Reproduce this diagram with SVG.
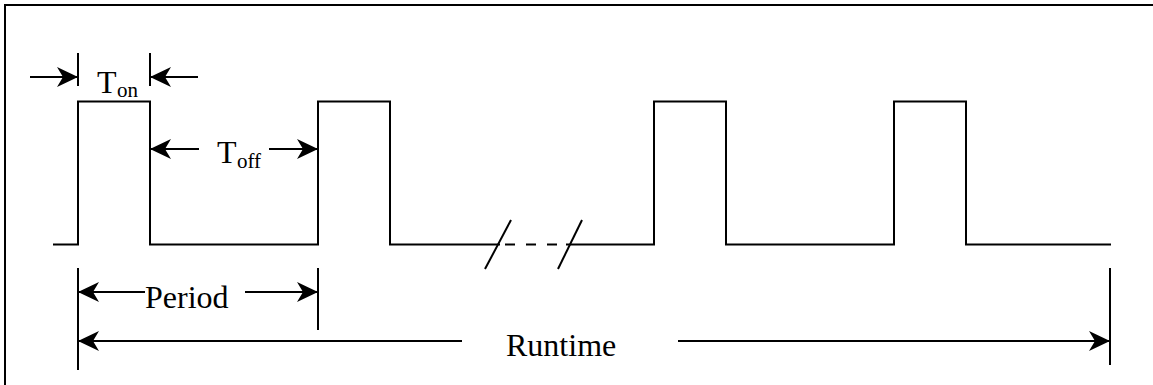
<svg xmlns="http://www.w3.org/2000/svg" width="1153" height="385" viewBox="0 0 1153 385">
  <style>
    .ln { stroke: #000; stroke-width: 2; fill: none; }
    .arr { stroke: #000; stroke-width: 2; fill: none; marker-end: url(#ah); }
    .lbl { font-family: "Liberation Serif", "Times New Roman", serif; fill: #000; }
    .big { font-size: 32px; }
    .sub { font-size: 21px; }
  </style>
  <defs>
    <marker id="ah" markerUnits="userSpaceOnUse" markerWidth="24" markerHeight="24" viewBox="-22 -11 24 22" refX="0" refY="0" orient="auto">
      <path d="M0,0 L-21,-10 L-15,0 L-21,10 Z" fill="#000"/>
    </marker>
  </defs>
  <rect width="1153" height="385" fill="#fff"/>
  <g id="frame">
    <rect class="ln" x="5" y="5" width="1165" height="400"/>
  </g>
  <g id="waveform">
    <polyline class="ln" points="53,244.5 78,244.5 78,101.5 150,101.5 150,244.5 318,244.5 318,101.5 390,101.5 390,244.5 500,244.5"/>
    <line class="ln" x1="505" y1="244.5" x2="560" y2="244.5" stroke-dasharray="10 11"/>
    <polyline class="ln" points="566,244.5 654,244.5 654,101.5 726,101.5 726,244.5 894,244.5 894,101.5 966,101.5 966,244.5 1111,244.5"/>
    <line class="ln" x1="485" y1="269" x2="511" y2="220"/>
    <line class="ln" x1="558" y1="269" x2="582" y2="220"/>
  </g>
  <g id="ticks">
    <line class="ln" x1="78" y1="53" x2="78" y2="86"/>
    <line class="ln" x1="150" y1="53" x2="150" y2="86"/>
    <line class="ln" x1="78" y1="268" x2="78" y2="370"/>
    <line class="ln" x1="318" y1="268" x2="318" y2="330"/>
    <line class="ln" x1="1110" y1="268" x2="1110" y2="365"/>
  </g>
  <g id="connectors">
    <line class="arr" x1="30" y1="77" x2="78" y2="77"/>
    <line class="arr" x1="198" y1="77" x2="150" y2="77"/>
    <line class="arr" x1="199" y1="149" x2="150" y2="149"/>
    <line class="arr" x1="269" y1="149" x2="318" y2="149"/>
    <line class="arr" x1="145" y1="292" x2="78" y2="292"/>
    <line class="arr" x1="245" y1="292" x2="318" y2="292"/>
    <line class="arr" x1="462" y1="341" x2="78" y2="341"/>
    <line class="arr" x1="678" y1="341" x2="1110" y2="341"/>
  </g>
  <g id="label-ton">
    <text class="lbl big" x="97" y="93">T</text>
    <text class="lbl sub" x="117" y="97">on</text>
  </g>
  <g id="label-toff">
    <text class="lbl big" x="217" y="163">T</text>
    <text class="lbl sub" x="237" y="168">off</text>
  </g>
  <g id="label-period">
    <text class="lbl big" x="145" y="308">Period</text>
  </g>
  <g id="label-runtime">
    <text class="lbl big" x="506" y="356">Runtime</text>
  </g>
</svg>
